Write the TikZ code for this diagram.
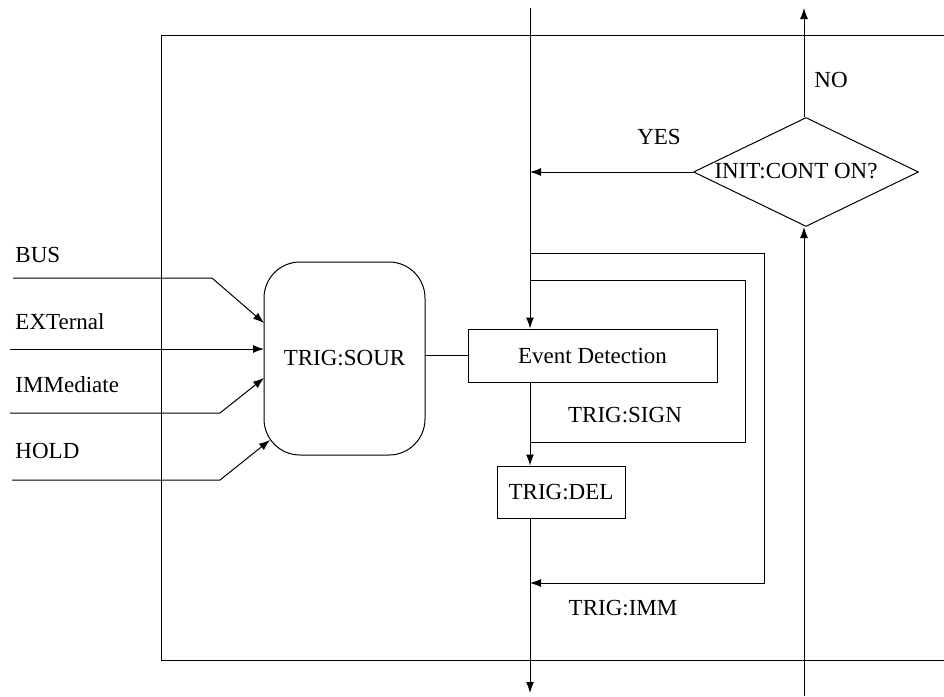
\documentclass[tikz,border=0pt]{standalone}
\usepackage{fontspec}
\setmainfont{Liberation Serif}
\newfontfamily\timesf{Liberation Serif}
\usetikzlibrary{shapes.geometric,arrows.meta}
\begin{document}
\begin{tikzpicture}[x=1pt,y=-1pt,line width=1pt,
  arr/.style={-{Latex[length=11pt,width=8pt]}},
  txt/.style={font=\timesf\fontsize{23}{27}\selectfont,inner sep=0pt},
  box/.style={draw,txt}]
\useasboundingbox (0,0) rectangle (944,696);
% frame
\draw (944,35) -- (161,35) -- (161,660) -- (944,660);
% nodes
\node[box,rounded corners=36pt,minimum width=161pt,minimum height=193pt] (sour) at (344.5,358.5) {TRIG:SOUR};
\node[box,minimum width=249pt,minimum height=53pt] (ed) at (592.5,355.5) {Event Detection};
\node[box,minimum width=128pt,minimum height=52pt] (del) at (561,492) {TRIG:DEL};
\node[draw,diamond,minimum width=225pt,minimum height=109pt,inner sep=0pt] (dia) at (806,172) {};
\node[txt] (diat) at (796,171) {INIT:CONT ON?};
% coordinates
\coordinate (top) at (530,8);
\coordinate (bot) at (530,693);
\coordinate (rbot) at (804,696);
\coordinate (rtop) at (804,8);
% main flow
\draw[arr] (top) -- (top |- ed.north);
\draw[arr] (top |- ed.south) -- (top |- del.north);
\draw[arr] (top |- del.south) -- (bot);
\draw (sour.east |- ed.west) -- (ed.west);
% decision
\draw[arr] (rbot) -- (rbot |- dia.south);
\draw[arr] (rbot |- dia.north) -- (rtop);
\draw[arr] (dia.west) -- (dia.west -| top);
\node[txt] (yes) at (659,137) {YES};
\node[txt] (no) at (831,80) {NO};
% loops
\draw[arr] (530,253) -- (764,253) -- (764,583) -- (530,583);
\draw (530,442) -- (745,442) -- (745,280) -- (530,280);
\node[txt] (sign) at (625,415) {TRIG:SIGN};
\node[txt] (imm) at (623,608) {TRIG:IMM};
% inputs
\node[txt,anchor=west] (bus) at (15,255) {BUS};
\node[txt,anchor=west] (ext) at (15,322) {EXTernal};
\node[txt,anchor=west] (immd) at (15,385) {IMMediate};
\node[txt,anchor=west] (hold) at (15,451) {HOLD};
\draw[arr] (13,278) -- (212,278) -- (264,323);
\draw[arr] (10,349) -- (264,349);
\draw[arr] (10,413) -- (220,413) -- (264,378);
\draw[arr] (12,480) -- (220,480) -- (270,440);
\end{tikzpicture}
\end{document}
